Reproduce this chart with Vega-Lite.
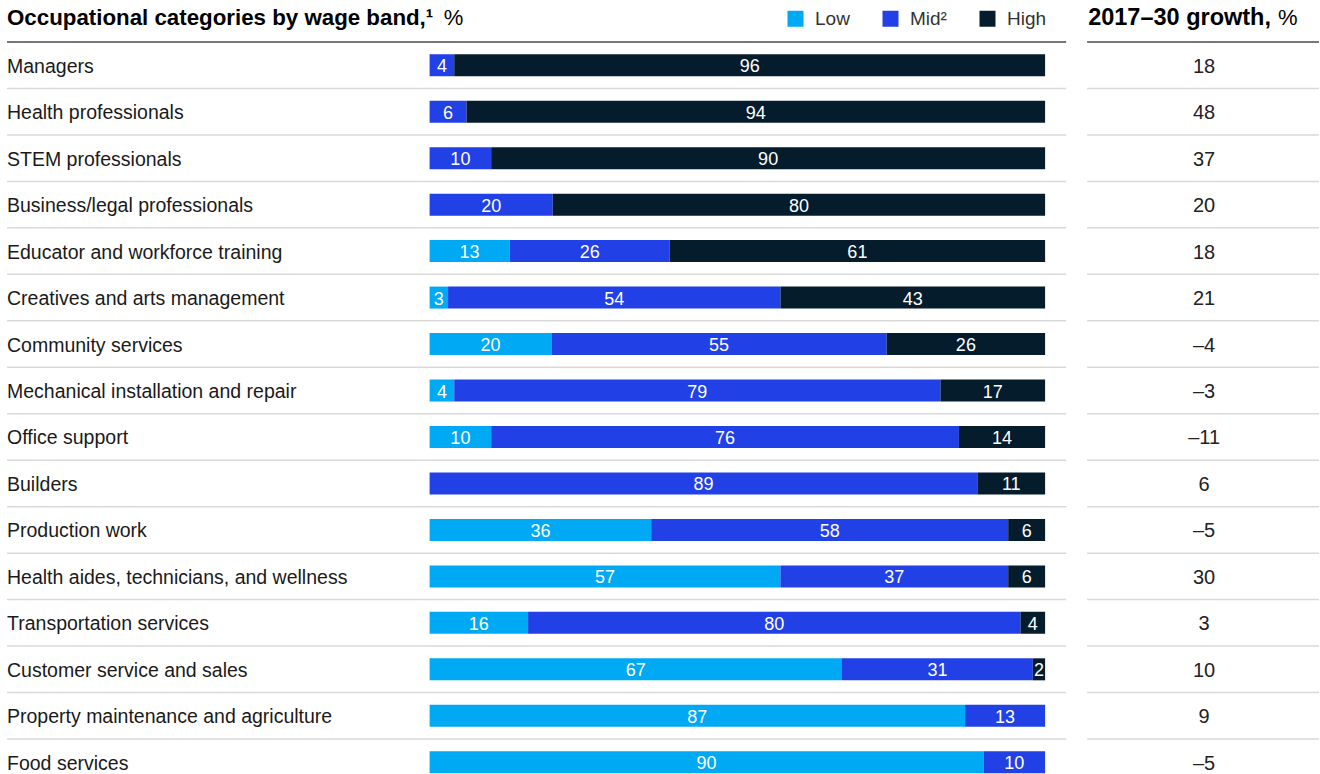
{
  "$schema": "https://vega.github.io/schema/vega-lite/v6.json",
  "width": 1320,
  "height": 774,
  "autosize": {"type": "fit", "contains": "padding"},
  "padding": 0,
  "background": "white",
  "config": {"view": {"stroke": null}, "font": "Liberation Sans"},
  "datasets": {
    "rows": [
      {"cat": "Managers", "Low": 0, "Mid": 4, "High": 96, "growth": 18},
      {"cat": "Health professionals", "Low": 0, "Mid": 6, "High": 94, "growth": 48},
      {"cat": "STEM professionals", "Low": 0, "Mid": 10, "High": 90, "growth": 37},
      {"cat": "Business/legal professionals", "Low": 0, "Mid": 20, "High": 80, "growth": 20},
      {"cat": "Educator and workforce training", "Low": 13, "Mid": 26, "High": 61, "growth": 18},
      {"cat": "Creatives and arts management", "Low": 3, "Mid": 54, "High": 43, "growth": 21},
      {"cat": "Community services", "Low": 20, "Mid": 55, "High": 26, "growth": -4},
      {"cat": "Mechanical installation and repair", "Low": 4, "Mid": 79, "High": 17, "growth": -3},
      {"cat": "Office support", "Low": 10, "Mid": 76, "High": 14, "growth": -11},
      {"cat": "Builders", "Low": 0, "Mid": 89, "High": 11, "growth": 6},
      {"cat": "Production work", "Low": 36, "Mid": 58, "High": 6, "growth": -5},
      {"cat": "Health aides, technicians, and wellness", "Low": 57, "Mid": 37, "High": 6, "growth": 30},
      {"cat": "Transportation services", "Low": 16, "Mid": 80, "High": 4, "growth": 3},
      {"cat": "Customer service and sales", "Low": 67, "Mid": 31, "High": 2, "growth": 10},
      {"cat": "Property maintenance and agriculture", "Low": 87, "Mid": 13, "High": 0, "growth": 9},
      {"cat": "Food services", "Low": 90, "Mid": 10, "High": 0, "growth": -5}
    ]
  },
  "layer": [
    {
      "data": {"name": "rows"},
      "mark": {"type": "rule"},
      "encoding": {
        "y": {"field": "cat", "type": "nominal", "bandPosition": 0, "axis": null,
              "scale": {"domain": ["hdr", "Managers", "Health professionals", "STEM professionals", "Business/legal professionals", "Educator and workforce training", "Creatives and arts management", "Community services", "Mechanical installation and repair", "Office support", "Builders", "Production work", "Health aides, technicians, and wellness", "Transportation services", "Customer service and sales", "Property maintenance and agriculture", "Food services"], "range": [-4.47, 785.5], "paddingInner": 0, "paddingOuter": 0}},
        "x": {"datum": -0.6866, "type": "quantitative", "axis": null, "scale": {"domain": [-0.698, 1.445], "nice": false, "zero": false}},
        "x2": {"datum": 1.0342},
        "stroke": {"condition": {"test": "datum.cat === 'Managers'", "value": "#777777"}, "value": "#d9d9d9"},
        "strokeWidth": {"condition": {"test": "datum.cat === 'Managers'", "value": 2}, "value": 1.5}
      }
    },
    {
      "data": {"name": "rows"},
      "mark": {"type": "rule"},
      "encoding": {
        "y": {"field": "cat", "type": "nominal", "bandPosition": 0, "axis": null},
        "x": {"datum": 1.0683, "type": "quantitative", "axis": null},
        "x2": {"datum": 1.445},
        "stroke": {"condition": {"test": "datum.cat === 'Managers'", "value": "#777777"}, "value": "#d9d9d9"},
        "strokeWidth": {"condition": {"test": "datum.cat === 'Managers'", "value": 2}, "value": 1.5}
      }
    },
    {
      "data": {"name": "rows"},
      "transform": [
        {"fold": ["Low", "Mid", "High"], "as": ["band", "value"]},
        {"filter": "datum.value > 0"},
        {"calculate": "indexof(['Low','Mid','High'], datum.band)", "as": "ord"},
        {"stack": "value", "groupby": ["cat"], "sort": [{"field": "ord", "order": "ascending"}], "offset": "normalize", "as": ["x0", "x1"]},
        {"calculate": "(datum.x0 + datum.x1) / 2", "as": "mid"}
      ],
      "layer": [
        {
          "mark": {"type": "bar", "size": 22},
          "encoding": {
            "y": {"field": "cat", "type": "nominal", "axis": null},
            "x": {"field": "x0", "type": "quantitative", "axis": null},
            "x2": {"field": "x1"},
            "color": {
              "field": "band", "type": "nominal",
              "scale": {"domain": ["Low", "Mid", "High"], "range": ["#00A9F4", "#2140E6", "#051C2C"]},
              "legend": {
                "orient": "none", "legendX": 786, "legendY": 9, "direction": "horizontal", "title": null,
                "symbolType": "square", "symbolSize": 256, "symbolStrokeWidth": 0, "symbolOpacity": 1,
                "labelFontSize": 19, "labelColor": "#333333", "labelFont": "Liberation Sans",
                "labelOffset": 10, "columnPadding": 31,
                "labelExpr": "datum.label == 'Mid' ? 'Mid²' : datum.label"
              }
            }
          }
        },
        {
          "mark": {"type": "text", "color": "white", "fontSize": 18, "baseline": "alphabetic", "dy": 7, "align": "center"},
          "encoding": {
            "y": {"field": "cat", "type": "nominal", "axis": null},
            "x": {"field": "mid", "type": "quantitative", "axis": null},
            "text": {"field": "value", "type": "quantitative"}
          }
        }
      ]
    },
    {
      "data": {"name": "rows"},
      "mark": {"type": "text", "align": "left", "fontSize": 19.5, "baseline": "alphabetic", "dy": 7.5, "color": "#1a1a1a"},
      "encoding": {
        "y": {"field": "cat", "type": "nominal", "axis": null},
        "x": {"datum": -0.6866, "type": "quantitative", "axis": null},
        "text": {"field": "cat", "type": "nominal"}
      }
    },
    {
      "data": {"name": "rows"},
      "transform": [
        {"calculate": "datum.growth < 0 ? '–' + (-datum.growth) : '' + datum.growth", "as": "glabel"}
      ],
      "mark": {"type": "text", "align": "center", "fontSize": 20, "baseline": "alphabetic", "dy": 7.5, "color": "#222222"},
      "encoding": {
        "y": {"field": "cat", "type": "nominal", "axis": null},
        "x": {"datum": 1.2583, "type": "quantitative", "axis": null},
        "text": {"field": "glabel", "type": "nominal"}
      }
    },
    {
      "data": {"values": [{}]},
      "mark": {"type": "text", "text": "Occupational categories by wage band,¹", "fontWeight": "bold", "fontSize": 22.3, "align": "left", "baseline": "alphabetic", "dy": 6, "color": "#000000"},
      "encoding": {
        "y": {"datum": "hdr", "type": "nominal", "axis": null},
        "x": {"datum": -0.6866, "type": "quantitative", "axis": null}
      }
    },
    {
      "data": {"values": [{}]},
      "mark": {"type": "text", "text": "%", "fontSize": 22, "align": "left", "baseline": "alphabetic", "dy": 6, "color": "#000000"},
      "encoding": {
        "y": {"datum": "hdr", "type": "nominal", "axis": null},
        "x": {"datum": 0.0228, "type": "quantitative", "axis": null}
      }
    },
    {
      "data": {"values": [{}]},
      "mark": {"type": "text", "text": "2017–30 growth,", "fontWeight": "bold", "fontSize": 23.5, "align": "left", "baseline": "alphabetic", "dy": 6, "color": "#000000"},
      "encoding": {
        "y": {"datum": "hdr", "type": "nominal", "axis": null},
        "x": {"datum": 1.0699, "type": "quantitative", "axis": null}
      }
    },
    {
      "data": {"values": [{}]},
      "mark": {"type": "text", "text": "%", "fontSize": 22, "align": "left", "baseline": "alphabetic", "dy": 6, "color": "#000000"},
      "encoding": {
        "y": {"datum": "hdr", "type": "nominal", "axis": null},
        "x": {"datum": 1.3785, "type": "quantitative", "axis": null}
      }
    }
  ]
}
